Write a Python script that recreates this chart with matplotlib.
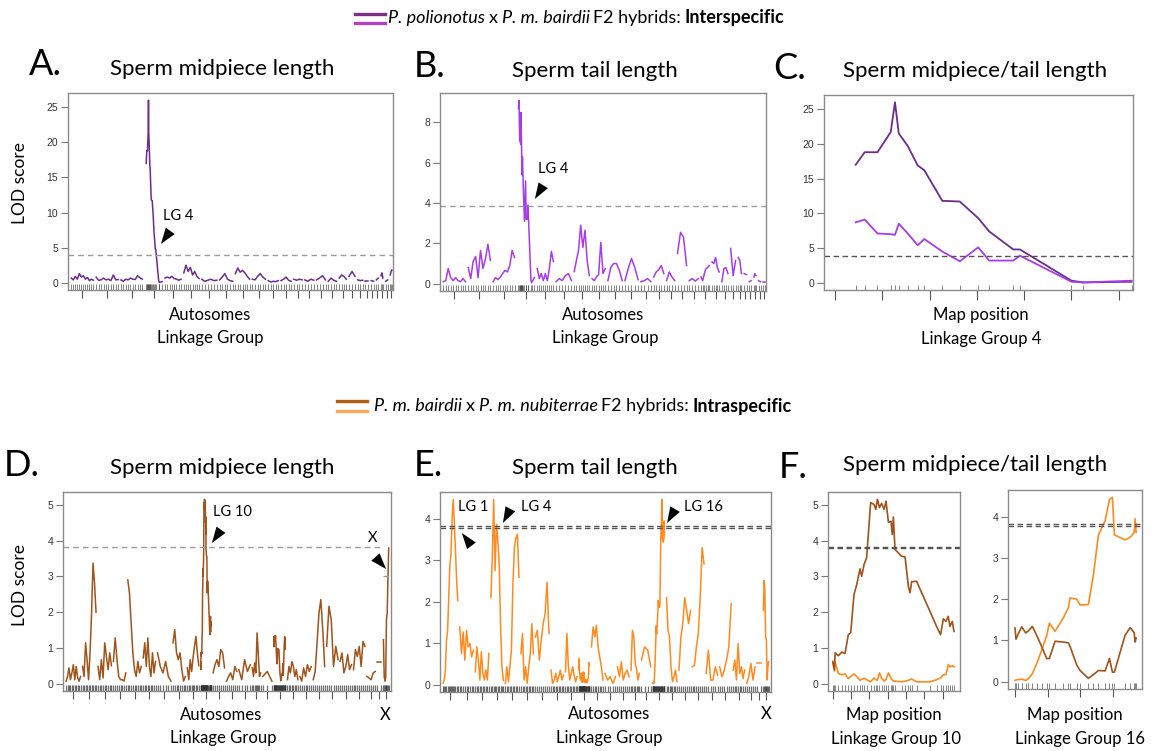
import numpy as np
import matplotlib
matplotlib.use("Agg")
import matplotlib.pyplot as plt
from matplotlib.patches import Polygon
from matplotlib.lines import Line2D
from matplotlib.transforms import ScaledTranslation

plt.rcParams['font.family'] = ['Lato', 'DejaVu Sans']

# ---------------------------------------------------------------- data
# Interspecific cross (P. polionotus x P. m. bairdii): linkage group lengths (cM)
inter_lg_length = [81, 81, 78, 63, 59, 56, 55, 48, 52, 48, 37, 37, 30, 33, 33,
                   30, 26, 22, 18, 11, 9, 7, 7, 7, 6]

# Fine map of linkage group 4 (map position, cM) with LOD for both traits
lg4_map_cM = [4.4, 6.3, 9.0, 11.8, 12.7, 13.5, 15.4, 17.5, 18.9, 22.7, 26.4,
              30.3, 32.6, 37.7, 39.1, 50.0, 52.5, 62.7]
lg4_midpiece = [17.0, 18.8, 18.8, 21.7, 26.0, 21.5, 19.7, 16.9, 16.2, 11.8, 11.7,
                9.3, 7.4, 4.8, 4.8, 0.3, 0.05, 0.15]
lg4_tail = [8.7, 9.1, 7.1, 7.0, 6.9, 8.5, 7.1, 5.4, 6.3, 4.5, 3.1,
            5.1, 3.2, 3.2, 3.9, 0.15, 0.05, 0.3]

# Genome-wide LOD profiles, one list per linkage group
midpiece_inter = [
    [0.66, 0.4, 0.9, 0.5, 1.3, 0.8, 1.0, 0.5, 0.75, 0.3, 0.5, 0.35],
    [0.8, 0.35, 0.4, 0.66, 0.4, 0.5, 0.3, 1.1, 0.4, 0.45],
    [0.4, 0.2, 0.5, 0.4, 0.66, 0.5, 0.45, 1.0, 0.7, 0.5],
    lg4_midpiece,
    [0.66, 0.8, 0.66, 0.9, 0.6, 0.5, 0.35, 0.5],
    [1.4, 2.5, 1.6, 2.2, 1.1, 1.6, 0.9, 0.6],
    [0.5, 0.2, 0.35, 0.5, 0.3, 0.35],
    [0.4, 0.8, 1.3, 0.5, 0.3, 0.2],
    [1.3, 2.1, 1.5, 1.75, 1.4, 0.9, 0.5],
    [0.5, 0.4, 0.9, 1.3, 0.8, 0.5],
    [0.3, 0.1, 0.2, 0.15, 0.3],
    [0.3, 0.5, 0.8, 0.35, 0.2],
    [0.5, 0.35, 0.5, 0.4],
    [0.4, 0.2, 0.5, 0.35],
    [0.4, 0.66, 1.0, 0.4],
    [0.2, 0.66, 0.35, 0.2],
    [0.66, 1.1, 0.9, 0.5],
    [0.9, 1.6, 0.9],
    [0.4, 0.3, 0.35],
    [0.2, 0.2],
    [0.3, 0.2],
    [0.4, 0.66],
    [1.0, 1.4, 0.66],
    [0.2, 0.4],
    [1.1, 1.6, 1.8],
]
tail_inter = [
    [0.1, 0.15, 0.75, 0.3, 0.15, 0.3, 0.15, 0.1, 0.25, 0.1],
    [0.8, 0.25, 1.1, 1.35, 0.3, 1.65, 0.75, 1.25, 1.95, 1.15],
    [0.1, 0.3, 0.2, 0.33, 0.5, 0.66, 0.58, 0.9, 1.65, 1.3],
    lg4_tail,
    [0.75, 0.25, 0.5, 0.15, 0.5, 0.15, 0.75, 1.6, 1.1],
    [0.1, 0.25, 0.15, 0.4, 0.5, 0.15],
    [0.6, 1.15, 1.65, 2.9, 1.8, 2.65, 1.15, 0.4],
    [0.25, 0.15, 0.33, 0.45, 2.05, 0.5, 0.75],
    [0.15, 0.8, 1.0, 1.0, 0.66, 0.15],
    [0.15, 0.75, 1.25, 0.8, 0.2],
    [0.1, 0.15, 0.25, 0.1],
    [0.33, 0.58, 0.7, 0.9, 0.5],
    [0.15, 0.58, 0.33, 0.15],
    [1.5, 2.55, 2.3, 0.9],
    [0.15, 0.25, 0.13, 0.25],
    [0.33, 0.15, 0.5, 0.75, 0.8, 0.9],
    [1.08, 1.0, 1.3, 0.8, 0.58],
    [0.1, 0.75, 0.8, 0.5],
    [1.75, 0.4, 1.15],
    [1.3, 1.15, 0.5],
    [0.5, 0.45],
    [0.1, 0.15],
    [0.33, 0.5, 0.4],
    [0.15, 0.1],
    [0.1, 0.1],
]

# Intraspecific cross (P. m. bairdii x P. m. nubiterrae): 24 autosomes + X
intra_lg_length = [94, 87, 87, 80, 87, 80, 87, 80, 74, 67, 74, 67, 74, 54, 60,
                   75, 67, 74, 74, 74, 74, 74, 54, 27, 34]

lg10_map_cM = [0, 0.9, 1.3, 3.1, 4.9, 6.7, 8.5, 9.8, 11.6, 13.1, 14.9, 15.8, 17.1,
               18.5, 20.7, 22.5, 23.5, 24.4, 25.5, 26.7, 28.0, 29.1, 30.4, 31.8,
               32.5, 33.1, 34.0, 37.6, 39.5, 41.3, 42.2, 43.1, 45.8, 53.1, 56.7,
               58.9, 60.4, 61.8, 63.1, 64.0, 65.3, 66.2]
lg10_midpiece = [0.6, 0.39, 0.86, 0.78, 0.88, 0.84, 1.37, 1.42, 2.49, 2.77, 3.21,
                 3.0, 3.33, 3.52, 5.06, 5.01, 4.87, 5.15, 4.92, 5.04, 4.87, 5.1,
                 4.51, 4.54, 4.17, 4.66, 3.75, 3.56, 3.54, 2.72, 2.54, 2.85, 2.86,
                 2.02, 1.6, 1.37, 1.81, 1.74, 1.88, 1.6, 1.74, 1.46]
lg10_tail = [0.63, 0.35, 0.6, 0.28, 0.25, 0.27, 0.14, 0.2, 0.27, 0.2, 0.09, 0.12,
             0.15, 0.11, 0.05, 0.16, 0.11, 0.1, 0.3, 0.15, 0.07, 0.12, 0.3, 0.15,
             0.1, 0.07, 0.07, 0.05, 0.07, 0.09, 0.11, 0.13, 0.05, 0.05, 0.11,
             0.16, 0.25, 0.25, 0.53, 0.47, 0.5, 0.47]

lg16_map_cM = [0, 0.6, 2.0, 4.1, 6.5, 8.2, 10.6, 13.3, 16.3, 19.4, 21.0, 24.5,
               29.6, 32.7, 33.7, 37.8, 39.8, 44.9, 48.0, 51.0, 55.1, 57.8, 59.6,
               60.8, 67.3, 70.4, 72.9, 73.5, 74.1]
lg16_midpiece = [1.3, 1.03, 1.16, 1.33, 1.18, 1.23, 1.34, 1.12, 0.85, 0.56, 0.56,
                 0.98, 0.96, 0.94, 0.85, 0.4, 0.27, 0.08, 0.17, 0.27, 0.26, 0.56,
                 0.23, 0.23, 1.12, 1.31, 1.19, 0.96, 1.06]
lg16_tail = [0.03, 0.04, 0.05, 0.06, 0.03, 0.07, 0.19, 0.44, 0.76, 1.12, 1.42,
             1.22, 1.55, 1.8, 2.03, 2.0, 1.86, 1.87, 2.6, 3.55, 3.9, 4.42, 4.47,
             3.56, 3.44, 3.5, 3.62, 3.95, 3.62]

midpiece_intra = [
    [0.07, 0.2, 0.44, 0.11, 0.3, 0.53, 0.11, 0.48, 0.16, 0.07, 0.2],
    [0.48, 0.2, 1.14, 0.67, 0.11, 0.86, 1.97, 3.37, 2.81, 2.0],
    [0.48, 0.11, 0.67, 0.16, 1.14, 0.76, 0.39, 0.86, 0.5],
    [0.62, 1.28, 0.67, 0.2, 0.11, 0.11, 0.07, 0.3],
    [2.9, 2.53, 1.69, 0.86, 0.39, 0.2, 0.62, 0.3, 0.48],
    [0.72, 1.14, 0.48, 1.28, 0.48, 0.2, 0.86, 0.3, 0.62],
    [0.86, 0.48, 0.3, 0.62, 0.2, 0.07],
    [1.14, 1.51, 0.86, 0.67, 0.86, 0.39, 0.07, 0.2],
    [0.44, 0.11, 0.67, 0.34, 0.72, 1.04, 1.32, 0.86, 0.5],
    lg10_midpiece,
    [0.3, 0.53, 0.67, 0.48, 0.95, 0.86, 0.44],
    [0.07, 0.2, 0.3, 0.11, 0.48, 0.34],
    [0.39, 0.11, 0.67, 0.34, 0.53],
    [0.44, 0.2, 0.58, 0.3, 1.42, 0.86, 0.2, 0.3],
    [0.2, 0.34, 0.07],
    lg16_midpiece,
    [0.11, 0.48, 0.3, 0.62, 0.48, 0.2, 0.39, 0.11],
    [0.2, 0.07, 0.44, 0.2, 0.53, 0.34, 0.48],
    [0.11, 0.34, 1.14, 1.97, 2.35, 1.51, 0.48],
    [1.04, 2.16, 1.79, 0.48, 1.04, 0.67],
    [0.62, 0.86, 0.3, 0.48, 0.81, 0.39, 0.53],
    [0.39, 0.95, 0.76, 1.04, 0.48, 1.18, 1.04],
    [0.2, 0.16, 0.11, 0.3, 0.34],
    [0.6, 0.6],
    [1.23, 0.2, 0.07, 0.16, 1.79, 1.97, 2.9, 3.79],
]
tail_intra = [
    [0.03, 0.11, 0.35, 1.07, 1.31, 2.1, 2.9, 3.15, 4.03, 4.47, 3.87, 3.23, 2.51, 2.03],
    [1.39, 0.75, 1.27, 0.59, 1.31, 0.91, 0.99, 0.67, 0.83],
    [0.31, 0.91, 0.59, 0.11, 0.79, 0.27, 0.11, 0.35, 0.11, 0.75],
    [2.1, 3.07, 4.47, 2.75, 3.87, 3.47, 2.91, 1.4, 0.4, 0.1],
    [0.03, 0.43, 0.07, 0.43, 0.83, 2.43, 3.31, 3.55, 3.63, 2.59],
    [0.75, 1.23, 0.11, 0.43, 0.03, 0.43, 0.75, 1.47, 0.75],
    [1.15, 1.31, 0.59, 1.07, 1.47, 1.71, 2.47, 1.23],
    [0.35, 0.03, 0.11, 0.27, 0.07, 0.19, 0.35, 0.11, 0.23],
    [0.31, 1.23, 0.43, 0.11, 0.27, 0.43, 0.23, 0.07, 0.19],
    lg10_tail,
    [0.91, 1.39, 1.15, 1.43, 0.91, 0.67, 0.43, 0.11],
    [0.27, 0.11, 0.19, 0.03, 0.19],
    [0.43, 0.19, 0.55, 0.11, 0.27, 0.35, 0.19],
    [0.35, 1.31, 1.15, 0.51, 0.35, 0.11, 0.27],
    [0.59, 0.91, 0.83, 0.43],
    lg16_tail,
    [2.1, 1.31, 1.15, 0.43, 0.07, 0.19, 0.35, 0.07],
    [0.35, 1.15, 1.47, 2.1, 1.79, 1.47, 1.79],
    [0.43, 0.47, 0.91, 1.23, 2.1, 3.31, 2.91],
    [0.27, 0.83, 0.11, 0.11, 0.43, 0.23],
    [0.43, 0.19, 0.35, 0.59, 0.91, 1.95],
    [0.35, 0.59, 0.11, 0.99, 0.27, 0.43, 0.15, 0.35],
    [0.03, 0.19, 0.51, 0.11, 0.43],
    [0.51, 0.51],
    [1.79, 2.51, 2.27, 1.15, 1.07, 0.11, 0.43, 0.55],
]

# Significance thresholds (LOD)
thr_inter_midpiece = 3.9
thr_inter_tail = 3.84
thr_intra_midpiece = 3.82
thr_intra_midpiece_x = 3.0
thr_intra_pair = [3.78, 3.83]

# ---------------------------------------------------------------- style
PURPLE_D = '#6b2c8f'
PURPLE_L = '#a83ce6'
BROWN = '#a0531a'
ORANGE = '#ff8a1e'
LEG_PURPLE = ['#7c2d84', '#b540c1']
LEG_BROWN = ['#b25e12', '#f8a75c']

W, H = 1153, 751
fig = plt.figure(figsize=(W / 100, H / 100), dpi=100)


def px_axes(l, t, r, b):
    return fig.add_axes([l / W, 1 - b / H, (r - l) / W, (b - t) / H])


def ftext(x, y, s, **kw):
    return fig.text(x / W, 1 - y / H, s, **kw)


def style_axes(ax, yticks, xlen=6):
    for s in ax.spines.values():
        s.set_color('#8a8a8a')
        s.set_linewidth(1.0)
    ax.set_yticks(yticks)
    ax.set_yticklabels([str(v) for v in yticks], family='Liberation Sans',
                       fontsize=7.5, color='#333333')
    ax.tick_params(axis='y', length=5, width=0.8, color='#777777', pad=2)
    ax.tick_params(axis='x', length=xlen, width=0.8, color='#555555',
                   labelbottom=False)


def rug(ax, xs, lw=0.6, alpha=0.7):
    ax.vlines(xs, 0, 0.028, transform=ax.get_xaxis_transform(),
              color='#333333', lw=lw, alpha=alpha)


def lod_ylim(ax, series):
    ymax = max(max(v) for v in series)
    ax.set_ylim(-0.04 * ymax, 1.04 * ymax)


def genome_layout(lengths, counts, fine_maps, gap):
    xs, mids, start = [], [], 0.0
    for i, L in enumerate(lengths):
        lg = i + 1
        if lg in fine_maps:
            pos = np.asarray(fine_maps[lg], dtype=float)
        else:
            pos = np.linspace(0, L, counts[i])
        xs.append(start + pos)
        mids.append(start + L / 2)
        start += L + gap
    return xs, mids, start - gap


def scan_panel(ax, lods, lengths, fine_maps, color, gap, pad_l, pad_r, rug_lw=0.6):
    xs, mids, total = genome_layout(lengths, [len(v) for v in lods], fine_maps, gap)
    for x, y in zip(xs, lods):
        ax.plot(x, y, color=color, lw=1.1, solid_joinstyle='round')
    rug(ax, np.concatenate(xs), rug_lw)
    ax.set_xlim(-pad_l, total + pad_r)
    lod_ylim(ax, lods)
    ax.set_xticks(mids)
    return xs, mids, total


def arrowhead(ax, fx, fy, angle, length=16, width=11):
    a = np.deg2rad(angle)
    d = np.array([np.cos(a), np.sin(a)])
    n = np.array([-d[1], d[0]])
    L, Wd = length / 100, width / 100
    verts = [(0, 0), tuple(-d * L + n * Wd / 2), tuple(-d * L - n * Wd / 2)]
    tr = fig.dpi_scale_trans + ScaledTranslation(fx, fy, ax.transAxes)
    ax.add_patch(Polygon(verts, closed=True, transform=tr, fc='black',
                         ec='none', clip_on=False, zorder=5))


def legend_row(x0, y0, colors, pieces, size=13, text_gap=33):
    for k, c in enumerate(colors):
        y = y0 - 4.5 + 9 * k
        fig.add_artist(Line2D([x0 / W, (x0 + 30) / W], [1 - y / H] * 2,
                              color=c, lw=2.4, transform=fig.transFigure))
    r = fig.canvas.get_renderer()
    x = x0 + text_gap
    for s, st in pieces:
        kw = dict(fontsize=size, va='center', ha='left')
        if st == 'i':
            kw['fontstyle'] = 'italic'
        elif st == 'b':
            kw['fontweight'] = 'bold'
        t = ftext(x, y0, s, **kw)
        x += t.get_window_extent(renderer=r).width + 3.8


DASH_LIGHT = dict(color='#9a9a9a', lw=1.0, ls=(0, (4, 3)))
DASH_DARK = dict(color='#555555', lw=1.0, ls=(0, (4, 2.5)))

# ---------------------------------------------------------------- A
axA = px_axes(68, 93, 393, 290)
scan_panel(axA, midpiece_inter, inter_lg_length, {4: lg4_map_cM}, PURPLE_D, 10, 12, 4)
axA.axhline(thr_inter_midpiece, **DASH_LIGHT)
style_axes(axA, [0, 5, 10, 15, 20, 25])
arrowhead(axA, 0.286, 0.234, -125.5)

# ---------------------------------------------------------------- B
axB = px_axes(440, 93, 766, 291)
scan_panel(axB, tail_inter, inter_lg_length, {4: lg4_map_cM}, PURPLE_L, 10, 12, 4)
axB.axhline(thr_inter_tail, **DASH_LIGHT)
style_axes(axB, [0, 2, 4, 6, 8])
arrowhead(axB, 0.291, 0.465, -121.6)

# ---------------------------------------------------------------- C
axC = px_axes(824, 95, 1133, 290)
axC.plot(lg4_map_cM, lg4_midpiece, color=PURPLE_D, lw=1.3)
axC.plot(lg4_map_cM, lg4_tail, color=PURPLE_L, lw=1.3)
axC.axhline(thr_inter_midpiece, **DASH_DARK)
rug(axC, lg4_map_cM)
axC.set_xlim(-2.3, 63)
lod_ylim(axC, [lg4_midpiece, lg4_tail])
axC.set_xticks(np.arange(0, 61, 10))
style_axes(axC, [0, 5, 10, 15, 20, 25], xlen=7)

# ---------------------------------------------------------------- D
axD = px_axes(63, 492, 391, 691)
xsD, midsD, totD = scan_panel(axD, midpiece_intra, intra_lg_length,
                              {10: lg10_map_cM, 16: lg16_map_cM}, BROWN, 13, 20, 15,
                              rug_lw=0.9)
x_start = xsD[-1][0] - 6
axD.plot([-20, x_start], [thr_intra_midpiece] * 2, **DASH_LIGHT)
axD.plot([x_start, totD + 15], [thr_intra_midpiece_x] * 2, **DASH_LIGHT)
style_axes(axD, [0, 1, 2, 3, 4, 5])
arrowhead(axD, 0.454, 0.744, -124.7)
arrowhead(axD, 0.985, 0.613, -48.4)

# ---------------------------------------------------------------- E
axE = px_axes(440, 492, 771, 692)
scan_panel(axE, tail_intra, intra_lg_length, {10: lg10_map_cM, 16: lg16_map_cM},
           ORANGE, 13, 20, 15, rug_lw=0.9)
for t in thr_intra_pair:
    axE.axhline(t, **DASH_DARK)
style_axes(axE, [0, 1, 2, 3, 4])
arrowhead(axE, 0.066, 0.795, 126.9)
arrowhead(axE, 0.190, 0.845, -118)
arrowhead(axE, 0.686, 0.845, -120)

# ---------------------------------------------------------------- F (LG 10, LG 16)
axF1 = px_axes(828, 492, 960, 691)
axF1.plot(lg10_map_cM, lg10_tail, color=ORANGE, lw=1.2)
axF1.plot(lg10_map_cM, lg10_midpiece, color=BROWN, lw=1.2)
for t in thr_intra_pair:
    axF1.axhline(t, **DASH_DARK)
rug(axF1, lg10_map_cM)
axF1.set_xlim(-2.6, 69.5)
lod_ylim(axF1, [lg10_midpiece, lg10_tail])
axF1.set_xticks(np.arange(0, 61, 10))
style_axes(axF1, [0, 1, 2, 3, 4, 5])

axF2 = px_axes(1008, 490, 1142, 689)
axF2.plot(lg16_map_cM, lg16_tail, color=ORANGE, lw=1.2)
axF2.plot(lg16_map_cM, lg16_midpiece, color=BROWN, lw=1.2)
for t in thr_intra_pair:
    axF2.axhline(t, **DASH_DARK)
rug(axF2, lg16_map_cM)
axF2.set_xlim(-4.3, 77.7)
lod_ylim(axF2, [lg16_midpiece, lg16_tail])
axF2.set_xticks(np.arange(0, 61, 20))
style_axes(axF2, [0, 1, 2, 3, 4])

# ---------------------------------------------------------------- text
LETTER = dict(fontsize=26, ha='left', va='baseline')
TITLE = dict(fontsize=16, ha='center', va='baseline')
LAB = dict(fontsize=12, ha='center', va='baseline')
ANN = dict(fontsize=10.5, ha='left', va='baseline')

ftext(29, 75, 'A.', **LETTER)
ftext(414, 77, 'B.', **LETTER)
ftext(773, 79, 'C.', **LETTER)
ftext(4, 476, 'D.', **LETTER)
ftext(414, 476, 'E.', **LETTER)
ftext(779, 478, 'F.', **LETTER)

ftext(222, 75, 'Sperm midpiece length', **TITLE)
ftext(595, 77, 'Sperm tail length', **TITLE)
ftext(975, 77, 'Sperm midpiece/tail length', **TITLE)
ftext(222, 474, 'Sperm midpiece length', **TITLE)
ftext(595, 474, 'Sperm tail length', **TITLE)
ftext(975, 471, 'Sperm midpiece/tail length', **TITLE)

ftext(210, 320, 'Autosomes', **LAB)
ftext(210, 343, 'Linkage Group', **LAB)
ftext(603, 320, 'Autosomes', **LAB)
ftext(605, 343, 'Linkage Group', **LAB)
ftext(981, 320, 'Map position', **LAB)
ftext(981, 344, 'Linkage Group 4', **LAB)

ftext(221, 720, 'Autosomes', **LAB)
ftext(385, 720, 'X', **LAB)
ftext(223, 743, 'Linkage Group', **LAB)
ftext(609, 719, 'Autosomes', **LAB)
ftext(766, 719, 'X', **LAB)
ftext(609, 743, 'Linkage Group', **LAB)
ftext(894, 720, 'Map position', **LAB)
ftext(896, 744, 'Linkage Group 10', **LAB)
ftext(1075, 720, 'Map position', **LAB)
ftext(1080, 744, 'Linkage Group 16', **LAB)

ftext(20, 183, 'LOD score', fontsize=12.5, rotation=90, ha='center', va='center')
ftext(20, 585, 'LOD score', fontsize=12.5, rotation=90, ha='center', va='center')

ftext(163, 220, 'LG 4', **ANN)
ftext(538, 173, 'LG 4', **ANN)
ftext(213, 516, 'LG 10', **ANN)
ftext(373, 542, 'X', fontsize=10.5, ha='center', va='baseline')
ftext(458, 511, 'LG 1', **ANN)
ftext(521, 511, 'LG 4', **ANN)
ftext(684, 511, 'LG 16', **ANN)

legend_row(355, 18, LEG_PURPLE,
           [('P. polionotus', 'i'), ('x', 'n'), ('P. m. bairdii', 'i'),
            ('F2 hybrids:', 'n'), ('Interspecific', 'b')])
legend_row(337, 406, LEG_BROWN,
           [('P. m. bairdii', 'i'), ('x', 'n'), ('P. m. nubiterrae', 'i'),
            ('F2 hybrids:', 'n'), ('Intraspecific', 'b')], text_gap=37)

fig.savefig('out.png', dpi=100, facecolor='white')
